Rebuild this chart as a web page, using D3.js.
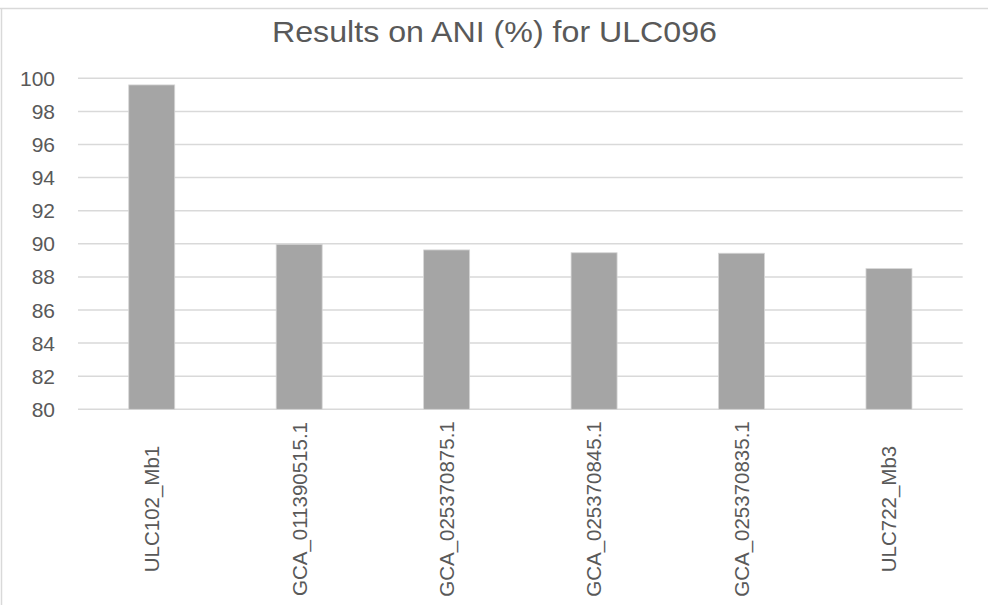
<!DOCTYPE html>
<html>
<head>
<meta charset="utf-8">
<script src="https://cdn.jsdelivr.net/npm/d3@7"></script>
<style>
  body { margin: 0; background: #fff; }
  text { font-family: "Liberation Sans", Arial, sans-serif; fill: #595959; }
</style>
</head>
<body>
<div id="chart"></div>
<script>
var categories = ["ULC102_Mb1", "GCA_011390515.1", "GCA_025370875.1", "GCA_025370845.1", "GCA_025370835.1", "ULC722_Mb3"];
var values = [99.6, 89.97, 89.63, 89.46, 89.43, 88.5];
var yTicks = [80, 82, 84, 86, 88, 90, 92, 94, 96, 98, 100];
var title = "Results on ANI (%) for ULC096";

var W = 988, H = 605;
var margin = {top: 78.3, right: 25.3, bottom: 195.7, left: 78};

var svg = d3.select("#chart").append("svg")
    .attr("width", W)
    .attr("height", H);

// chart border (top and left edges visible)
svg.append("line")
    .attr("x1", 0).attr("x2", W)
    .attr("y1", 8.5).attr("y2", 8.5)
    .attr("stroke", "#d9d9d9").attr("stroke-width", 1.5);
svg.append("line")
    .attr("x1", 1.5).attr("x2", 1.5)
    .attr("y1", 8.5).attr("y2", H)
    .attr("stroke", "#d9d9d9").attr("stroke-width", 1.5);

var x = d3.scaleBand()
    .domain(categories)
    .range([margin.left, W - margin.right])
    .paddingInner(0.688)
    .paddingOuter(0.344);

var y = d3.scaleLinear()
    .domain([80, 100])
    .range([H - margin.bottom, margin.top]);

// gridlines
svg.append("g")
    .selectAll("line")
    .data(yTicks)
    .enter().append("line")
    .attr("x1", margin.left)
    .attr("x2", W - margin.right)
    .attr("y1", function(d) { return y(d); })
    .attr("y2", function(d) { return y(d); })
    .attr("stroke", "#d9d9d9")
    .attr("stroke-width", 1.5);

// y labels
svg.append("g")
    .selectAll("text")
    .data(yTicks)
    .enter().append("text")
    .attr("x", 55)
    .attr("y", function(d) { return y(d); })
    .attr("dy", "0.36em")
    .attr("text-anchor", "end")
    .style("font-size", "21px")
    .text(function(d) { return d; });

// bars
svg.append("g")
    .selectAll("rect")
    .data(values)
    .enter().append("rect")
    .attr("x", function(d, i) { return x(categories[i]); })
    .attr("width", x.bandwidth())
    .attr("y", function(d) { return y(d); })
    .attr("height", function(d) { return y(80) - y(d); })
    .attr("fill", "#a5a5a5")
    .attr("stroke", "#d6d6d6")
    .attr("stroke-width", 0.8);

// category labels, rotated
svg.append("g")
    .selectAll("text")
    .data(categories)
    .enter().append("text")
    .attr("transform", function(d) {
        return "translate(" + (x(d) + x.bandwidth() / 2) + ",509) rotate(-90)";
    })
    .attr("dy", "0.36em")
    .attr("text-anchor", "middle")
    .style("font-size", "20.5px")
    .text(function(d) { return d; });

// title
svg.append("text")
    .attr("x", 494.5)
    .attr("y", 42)
    .attr("text-anchor", "middle")
    .attr("textLength", 445)
    .attr("lengthAdjust", "spacingAndGlyphs")
    .style("font-size", "30px")
    .text(title);
</script>
</body>
</html>
